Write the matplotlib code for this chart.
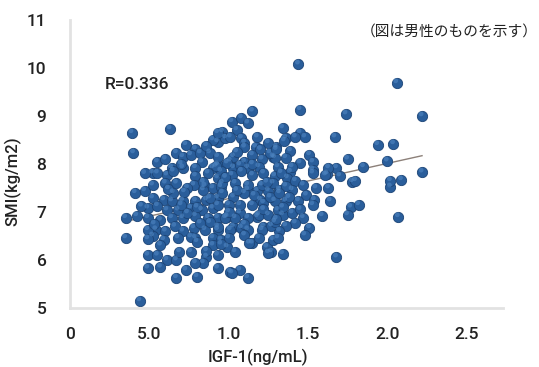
import numpy as np
import matplotlib
matplotlib.use("Agg")
import matplotlib.pyplot as plt

plt.rcParams['font.family'] = ['Roboto', 'Noto Sans CJK JP', 'DejaVu Sans']

# IGF-1 (x) and SMI (y), one pair per dot
igf = [0.44, 0.39, 0.40, 0.63, 1.44, 2.06, 1.45, 2.22, 1.74, 1.15,
       1.94, 2.04, 1.34, 1.67, 1.36, 1.45, 1.48, 1.42, 1.30, 1.39,
       1.51, 1.28, 1.75, 2.00, 1.36, 1.45, 1.53, 1.53, 1.85, 1.68,
       1.62, 2.22, 1.31, 1.39,
       1.02, 1.08, 1.12, 1.05, 0.96, 0.93, 0.98, 1.08, 1.10, 1.18,
       1.17, 1.25, 1.35, 1.29, 1.21, 1.01, 1.10, 1.19, 1.26, 0.93,
       1.03, 1.12, 1.40, 1.63,
       0.55, 0.73, 0.79, 0.67, 0.71, 0.83, 0.88, 0.90, 0.93, 0.64,
       0.71, 0.79, 0.90,
       0.76, 0.82, 1.01, 1.10, 1.15, 1.03, 0.93, 0.99, 1.07, 0.52,
       0.61,
       0.55, 0.65, 0.79, 0.87, 0.93, 0.60, 0.67, 0.78, 0.85, 0.90,
       0.41, 0.47, 0.52, 0.59, 0.64, 0.71, 0.79, 0.86, 0.93, 0.49,
       0.55, 0.61, 0.68, 0.76, 0.83, 0.90, 0.35, 0.42, 0.49, 0.57,
       0.64, 0.71, 0.79, 0.87, 0.93, 0.54, 0.60, 0.71, 0.78, 0.85,
       0.93, 0.35, 0.52, 0.68, 0.79, 0.90,
       0.74, 0.65, 0.49, 0.59, 0.57, 0.74, 0.76, 0.80, 0.82, 0.93,
       0.95, 0.90, 0.49, 0.55, 0.61, 0.67, 0.69, 0.76, 0.86, 0.93,
       0.49, 0.57, 0.67, 0.73, 0.80, 0.84, 0.93, 1.01, 1.07, 1.12,
       0.84, 0.88, 0.95, 1.03, 1.12, 1.20, 1.07, 1.18, 1.03, 1.12,
       1.22, 0.99, 1.15, 1.24, 0.99, 1.04, 0.52,
       0.95, 1.02, 1.08, 1.15, 1.22, 1.29, 1.37, 1.42, 1.53, 1.61,
       1.63, 1.49, 1.54, 1.64, 1.59, 1.51, 1.48, 1.47, 1.42, 1.36,
       1.32, 1.27, 1.21, 1.08, 1.01, 0.98, 1.04, 1.12, 1.19, 1.25,
       1.34, 1.40, 1.44, 1.36, 1.29, 1.22, 1.15, 1.07, 1.00, 0.93,
       0.96, 1.10, 1.18, 1.25, 1.32, 1.40, 0.96, 1.04, 1.12, 1.21,
       1.28, 1.36, 1.00, 1.10, 1.19, 1.28,
       1.47, 1.78, 2.02, 2.09, 1.53, 1.77, 1.82, 1.75, 1.29, 1.31,
       1.27, 1.34, 2.07, 1.68, 1.31, 1.34, 1.26, 1.32,
       1.70, 1.80, 2.02, 0.79, 0.86, 0.49, 0.95, 1.13, 1.25, 1.02,
       # dots half hidden in the crowded middle
       0.62, 0.72, 0.84, 0.98, 1.05, 1.16, 1.24, 1.33, 1.20, 1.30,
       1.05, 0.86, 0.70, 0.60, 0.47, 0.45, 0.53, 0.66, 0.88, 1.10,
       1.30, 1.45, 1.55, 1.22, 1.00, 0.80, 0.70, 1.15, 0.92, 1.38]

smi = [5.15, 8.65, 8.23, 8.73, 10.08, 9.69, 9.13, 9.00, 9.04, 9.10,
       8.40, 8.42, 8.75, 8.56, 8.54, 8.65, 8.56, 8.56, 8.35, 8.27,
       8.19, 8.15, 8.10, 8.06, 8.13, 8.02, 8.04, 7.88, 7.94, 7.92,
       7.79, 7.83, 7.94, 7.83,
       8.88, 8.96, 8.85, 8.71, 8.67, 8.46, 8.54, 8.54, 8.44, 8.56,
       8.35, 8.44, 8.48, 8.13, 8.10, 8.06, 8.04, 7.94, 8.23, 7.98,
       7.92, 7.92, 7.94, 7.92,
       8.04, 8.40, 8.31, 8.23, 8.15, 8.04, 8.23, 8.50, 8.65, 7.92,
       7.92, 7.92, 7.92,
       8.19, 8.23, 8.56, 8.35, 8.19, 8.15, 8.15, 8.02, 7.98, 7.81,
       7.77,
       7.81, 7.85, 7.75, 7.81, 7.71, 7.60, 7.60, 7.56, 7.54, 7.50,
       7.40, 7.44, 7.29, 7.25, 7.23, 7.23, 7.23, 7.25, 7.29, 7.08,
       7.13, 7.04, 7.04, 7.08, 7.04, 7.08, 6.88, 6.92, 6.88, 6.83,
       6.88, 6.88, 6.92, 6.88, 6.88, 6.63, 6.60, 6.60, 6.67, 6.63,
       6.63, 6.46, 6.50, 6.46, 6.46, 6.46,
       7.50, 7.40, 6.63, 6.42, 6.31, 6.98, 6.48, 6.38, 6.77, 6.69,
       6.42, 6.31, 6.10, 6.10, 6.00, 6.00, 6.17, 6.17, 6.06, 6.10,
       5.83, 5.85, 5.63, 5.79, 5.65, 5.94, 5.83, 5.75, 5.79, 5.63,
       7.46, 7.29, 7.52, 7.31, 7.46, 7.25, 6.98, 6.90, 6.69, 6.63,
       6.69, 6.90, 6.35, 6.27, 6.27, 6.17, 7.56,
       7.85, 7.77, 7.85, 7.77, 7.81, 7.75, 7.71, 7.65, 7.81, 7.77,
       7.50, 7.35, 7.25, 7.23, 6.92, 6.67, 6.52, 6.88, 6.77, 6.71,
       6.60, 6.71, 6.63, 6.67, 6.63, 6.88, 6.88, 6.88, 6.94, 6.94,
       6.94, 6.98, 7.23, 7.23, 7.23, 7.19, 7.15, 7.15, 7.15, 7.15,
       7.40, 7.40, 7.44, 7.44, 7.46, 7.46, 7.60, 7.60, 7.56, 7.56,
       7.60, 7.54, 6.46, 6.52, 6.46, 6.42,
       7.56, 7.63, 7.52, 7.67, 7.15, 7.10, 7.15, 6.94, 6.79, 6.46,
       6.17, 6.13, 6.90, 6.06, 7.04, 7.10, 7.31, 7.40,
       7.75, 7.65, 7.65, 5.94, 6.19, 6.44, 6.33, 6.35, 6.15, 5.73,
       7.48, 7.42, 7.62, 7.72, 7.45, 7.35, 7.62, 7.82, 8.30, 8.30,
       8.25, 8.38, 8.00, 8.10, 7.80, 7.12, 6.75, 6.70, 6.78, 6.75,
       6.85, 7.05, 7.50, 7.05, 7.00, 7.10, 7.15, 8.00, 7.95, 7.30]

# regression line ends as drawn
fit_x = [0.39, 2.22]
fit_y = [6.83, 8.17]

xticks = [0, 0.5, 1.0, 1.5, 2.0, 2.5]
xtick_labels = ['0', '5.0', '1.0', '1.5', '2.0', '2.5']
yticks = [5, 6, 7, 8, 9, 10, 11]

fig = plt.figure(figsize=(5.39, 3.67), dpi=100)
ax = fig.add_axes([0.130, 0.161, 0.803, 0.785])

ax.plot(fit_x, fit_y, color='#8c8079', lw=1.0, zorder=1)
ax.scatter(igf, smi, s=55, color='#2a5e9b', edgecolors='#1c4476',
           linewidths=0.6, zorder=2)
# small highlight to mimic the shaded balls
ax.scatter(np.array(igf) - 0.006, np.array(smi) + 0.04, s=12,
           color='#4f86c2', edgecolors='none', alpha=0.6, zorder=3)

ax.set_xlim(0, 2.73)
ax.set_ylim(5, 11)
ax.set_xticks(xticks)
ax.set_xticklabels(xtick_labels)
ax.set_yticks(yticks)
ax.tick_params(length=0, labelsize=12.5, colors='#222222')
for lab in ax.get_xticklabels() + ax.get_yticklabels():
    lab.set_fontweight('medium')
ax.tick_params(axis='y', pad=17)
ax.tick_params(axis='x', pad=14)

for side in ['top', 'right']:
    ax.spines[side].set_visible(False)
for side in ['left', 'bottom']:
    ax.spines[side].set_color('#e2e2e2')
    ax.spines[side].set_linewidth(2)

fig.text(0.479, 0.025, 'IGF-1(ng/mL)', fontsize=12, fontweight='medium',
         ha='center', va='center', color='#222222')
fig.text(0.024, 0.507, 'SMI(kg/m2)', fontsize=12, fontweight='medium',
         rotation=90, ha='center', va='center', color='#222222')

ax.text(0.22, 9.65, 'R=0.336', fontsize=12.5, fontweight='medium',
        va='center', color='#222222')
fig.text(0.998, 0.912, '（図は男性のものを示す）', fontsize=10.6,
         family=['Noto Sans CJK JP'], ha='right', va='center',
         color='#222222')

fig.savefig('out.png', dpi=100)
